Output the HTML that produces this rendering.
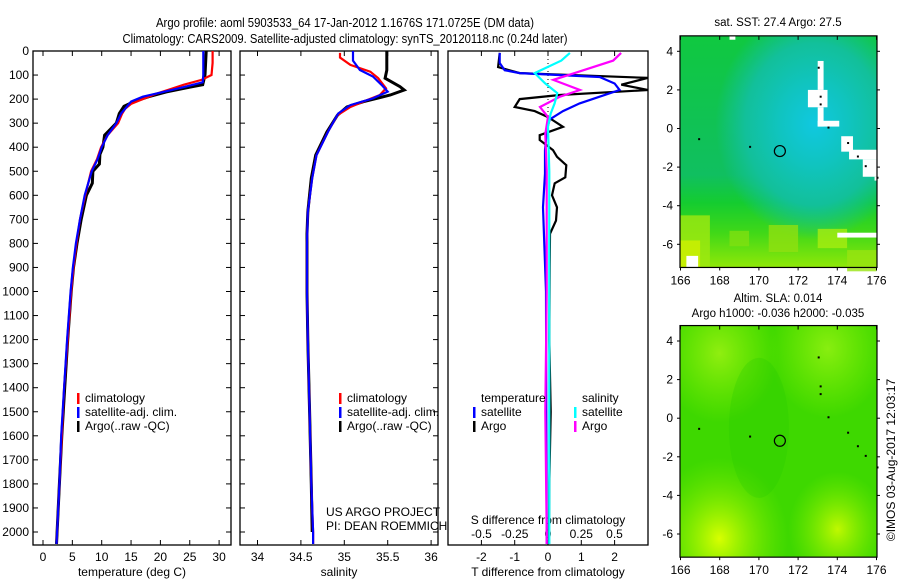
<!DOCTYPE html>
<html><head><meta charset="utf-8">
<style>
html,body{margin:0;padding:0;background:#fff;}
svg{display:block;font-family:"Liberation Sans",sans-serif;}
</style></head>
<body>
<svg id="chart" width="900" height="580" viewBox="0 0 900 580" xmlns="http://www.w3.org/2000/svg">
<defs>
<radialGradient id="teal" cx="0.68" cy="0.38" r="0.5">
<stop offset="0" stop-color="#10c8e0"/><stop offset="0.35" stop-color="#10c4c0"/><stop offset="0.7" stop-color="#12c09a"/><stop offset="1" stop-color="#12c09a" stop-opacity="0"/>
</radialGradient>
<linearGradient id="sstv" x1="0" y1="0" x2="0" y2="1">
<stop offset="0" stop-color="#10c840"/><stop offset="0.6" stop-color="#10bf60"/><stop offset="0.72" stop-color="#14cc30"/><stop offset="0.85" stop-color="#40d818"/><stop offset="1" stop-color="#90e808"/>
</linearGradient>
<radialGradient id="y1" cx="0.2" cy="0.92" r="0.35"><stop offset="0" stop-color="#d8ff00"/><stop offset="1" stop-color="#80ee00" stop-opacity="0"/></radialGradient>
<radialGradient id="y2" cx="0.8" cy="0.88" r="0.25"><stop offset="0" stop-color="#c0f800"/><stop offset="1" stop-color="#80ee00" stop-opacity="0"/></radialGradient>
<radialGradient id="y3" cx="0.2" cy="0.12" r="0.3"><stop offset="0" stop-color="#90ee10"/><stop offset="1" stop-color="#80ee00" stop-opacity="0"/></radialGradient>
<radialGradient id="y4" cx="0.75" cy="0.1" r="0.3"><stop offset="0" stop-color="#88ee10"/><stop offset="1" stop-color="#80ee00" stop-opacity="0"/></radialGradient>
</defs>
<g id="root"></g>
</svg>
<script>
// ---------- data ----------
const depthT = [0,50,100,120,140,160,180,200,220,240,260,300,350,400,450,500,600,700,800,900,1000,1200,1400,1600,1800,2000,2050];
const tempClim = [28.9,28.9,28.7,27,24,21.5,19,17,15,14,13.5,12.8,11,9.9,9.2,8.2,7.2,6.3,5.7,5.2,4.8,4.2,3.6,3.2,2.8,2.4,2.3];
const depthTs = [0,50,100,130,150,170,190,210,240,260,300,350,400,450,500,600,700,800,900,1000,1200,1400,1600,1800,2000,2050];
const tempSat = [27.3,27.3,27.3,27.2,24,20.5,17,15,14,13.3,12.5,11,10,9.3,8.3,7.1,6.3,5.6,5.1,4.7,4.1,3.6,3.1,2.8,2.4,2.3];
const depthTa = [0,50,100,140,150,170,190,210,230,260,300,350,400,430,470,500,550,600,700,800,900,1000,1200,1400,1600,1800,2000,2050];
const tempArgo = [27.8,27.7,27.6,27.2,25,21,18,15.5,13.8,13,12.5,10.5,10.2,9.7,9.6,8.5,8.4,7.4,6.5,5.8,5.2,4.8,4.2,3.7,3.2,2.8,2.4,2.3];

const depthS = [8,27,58,86,113,155,183,204,233,267,337,433,529,670,795,1000,1200,1500,1800,2000,2050];
const salClim = [34.95,34.95,35.07,35.3,35.39,35.48,35.41,35.26,35.07,34.92,34.81,34.68,34.63,34.58,34.57,34.57,34.58,34.6,34.62,34.64,34.64];
const depthSs = [0,40,79,106,141,169,197,225,260,330,433,529,670,795,1000,1200,1500,1800,2000,2050];
const salSat = [35.1,35.1,35.18,35.33,35.43,35.5,35.33,35.07,34.93,34.82,34.68,34.63,34.58,34.57,34.57,34.58,34.6,34.62,34.64,34.64];
const depthSa = [0,80,113,148,162,183,211,233,267,337,433,529,670,760,1000,1200,1500,1800,2000];
const salArgo = [35.49,35.49,35.47,35.64,35.69,35.53,35.22,35.03,34.92,34.8,34.67,34.62,34.58,34.57,34.57,34.58,34.6,34.62,34.63];

const depthD = [8,67,92,112,140,162,183,200,233,250,275,315,350,370,412,440,475,525,550,600,650,705,760,900,1200,1500,1800,2000,2050];
const tDiffArgo = [-1.45,-1.5,-0.85,3.0,2.2,3.0,0.35,-0.85,-1.0,-0.4,0,0.45,-0.25,-0.25,0.15,0.27,0.55,0.52,0.2,0.12,0.27,0.24,0.06,0.05,0.04,0.08,0.04,0.03,0.03];
const depthDs = [8,50,80,92,108,135,162,190,218,250,285,325,412,510,650,1000,1500,2000,2050];
const tDiffSat = [-1.45,-1.45,-1.3,-0.85,1.55,2.0,2.15,1.55,0.95,0.45,0.05,-0.03,-0.09,-0.09,-0.15,-0.06,-0.05,-0.04,-0.04];
const depthSd = [8,40,92,135,175,218,260,315,500,1000,1500,2000,2050];
const sDiffSat = [0.165,0.1,-0.1,-0.02,0.07,0.05,0.02,0,0.01,0.01,0.01,0.01,0.01];
const depthSda = [8,40,92,120,162,190,233,275,345,500,1000,1500,2000,2050];
const sDiffArgo = [0.55,0.49,0.2,0.04,0.24,0.09,-0.06,0,-0.02,-0.01,-0.01,-0.02,-0.01,-0.01];

const depthTicks = [0,100,200,300,400,500,600,700,800,900,1000,1100,1200,1300,1400,1500,1600,1700,1800,1900,2000];
const tTicks = [0,5,10,15,20,25,30];
const sTicks = [34,34.5,35,35.5,36];
const sTickLabels = ["34","34.5","35","35.5","36"];
const tdTicks = [-2,-1,0,1,2];
const sdTicks = [-0.5,-0.25,0,0.25,0.5];
const sdTickLabels = ["-0.5","-0.25","0","0.25","0.5"];
const lonTicks = [166,168,170,172,174,176];
const latTicks = [4,2,0,-2,-4,-6];

// ---------- scales ----------
const yD = d => 51 + d*0.2405;
const xT = t => 43 + t*5.87;
const xS = s => 257.5 + (s-34)*86.8;
const xTd = v => 548 + v*33.3;
const xSd = v => 548 + v*133;
const NS="http://www.w3.org/2000/svg";
const root=document.getElementById('root');
function el(tag,attrs,parent){const e=document.createElementNS(NS,tag);for(const k in attrs)e.setAttribute(k,attrs[k]);(parent||root).appendChild(e);return e;}
function txt(x,y,s,attrs,parent){const e=el('text',Object.assign({x:x,y:y,'font-size':12,fill:'#000'},attrs||{}),parent);e.textContent=s;return e;}

// titles
let t1=txt(345,27,"Argo profile: aoml 5903533_64 17-Jan-2012 1.1676S 171.0725E (DM data)",{'text-anchor':'middle','font-size':13,textLength:378,lengthAdjust:'spacingAndGlyphs'});


let t2=txt(345,43,"Climatology: CARS2009. Satellite-adjusted climatology: synTS_20120118.nc (0.24d later)",{'text-anchor':'middle','font-size':13,textLength:445,lengthAdjust:'spacingAndGlyphs'});



function frame(x0,x1,name){
  const g=el('g',{});
  
  
  el('rect',{x:x0,y:51,width:x1-x0,height:494,fill:'none',stroke:'#000','stroke-width':1.3},g);
  return g;
}
function line(xs,ds,fx,color,name,g,w){
  const pts=ds.map((d,i)=>fx(xs[i]).toFixed(1)+','+yD(d).toFixed(1)).join(' ');
  const p=el('polyline',{points:pts,fill:'none',stroke:color,'stroke-width':w||2.2,'stroke-linejoin':'miter'},g);
  
  
}
function clip(id,x0,x1){const c=el('clipPath',{id:id});el('rect',{x:x0,y:51,width:x1-x0,height:494},c);}

// Panel 1
const g1=frame(33,231,'temperature-panel');
depthTicks.forEach(d=>{
  const y=yD(d);
  el('line',{x1:33,y1:y,x2:38,y2:y,stroke:'#000'},g1);
  el('line',{x1:226,y1:y,x2:231,y2:y,stroke:'#000'},g1);
  const l=txt(29,y+4,String(d),{'text-anchor':'end','font-size':12},g1);
  
  
});
tTicks.forEach(t=>{
  const x=xT(t);
  el('line',{x1:x,y1:545,x2:x,y2:540,stroke:'#000'},g1);
  el('line',{x1:x,y1:51,x2:x,y2:56,stroke:'#000'},g1);
  const l=txt(x,561,String(t),{'text-anchor':'middle'},g1);
  
  
});
let a1=txt(132,576,"temperature (deg C)",{'text-anchor':'middle'},g1);


line(tempArgo,depthTa,xT,'#000','argo-temperature-line',g1,3);
line(tempClim,depthT,xT,'#f00','climatology-temperature-line',g1);
line(tempSat,depthTs,xT,'#00f','satellite-temperature-line',g1);

function legend(g,x,y,items,prefix){
  items.forEach((it,i)=>{
    const yy=y+i*14;
    el('rect',{x:x,y:yy-9,width:2.5,height:11,fill:it[1]},g);
    const l=txt(x+8,yy,it[0],{},g);
    
    
  });
}
legend(g1,77,402,[["climatology","#f00"],["satellite-adj. clim.","#00f"],["Argo(..raw -QC)","#000"]],'temperature');

// Panel 2
const g2=frame(240,438,'salinity-panel');
depthTicks.forEach(d=>{const y=yD(d);el('line',{x1:240,y1:y,x2:245,y2:y,stroke:'#000'},g2);el('line',{x1:433,y1:y,x2:438,y2:y,stroke:'#000'},g2);});
sTicks.forEach((s,i)=>{
  const x=xS(s);
  el('line',{x1:x,y1:545,x2:x,y2:540,stroke:'#000'},g2);
  el('line',{x1:x,y1:51,x2:x,y2:56,stroke:'#000'},g2);
  const l=txt(x,561,sTickLabels[i],{'text-anchor':'middle'},g2);
  
  
});
let a2=txt(339,576,"salinity",{'text-anchor':'middle'},g2);


line(salArgo,depthSa,xS,'#000','argo-salinity-line',g2,3);
line(salClim,depthS,xS,'#f00','climatology-salinity-line',g2);
line(salSat,depthSs,xS,'#00f','satellite-salinity-line',g2);
legend(g2,339,402,[["climatology","#f00"],["satellite-adj. clim.","#00f"],["Argo(..raw -QC)","#000"]],'salinity');
let pr1=txt(326,516,"US ARGO PROJECT",{},g2);


let pr2=txt(326,530,"PI: DEAN ROEMMICH",{},g2);



// Panel 3
clip('c3',448,648);
const g3=frame(448,648,'difference-panel');
tdTicks.forEach(v=>{
  const x=xTd(v);
  el('line',{x1:x,y1:545,x2:x,y2:540,stroke:'#000'},g3);
  el('line',{x1:x,y1:51,x2:x,y2:56,stroke:'#000'},g3);
  const l=txt(x,561,String(v),{'text-anchor':'middle'},g3);
  
  
});
sdTicks.forEach((v,i)=>{
  const l=txt(xSd(v),538,sdTickLabels[i],{'text-anchor':'middle'},g3);
  
  
});
let a3=txt(548,576,"T difference from climatology",{'text-anchor':'middle'},g3);


let a4=txt(548,524,"S difference from climatology",{'text-anchor':'middle'},g3);


el('line',{x1:548,y1:51,x2:548,y2:140,stroke:'#000','stroke-dasharray':'1,3'},g3);
const gc=el('g',{'clip-path':'url(#c3)'},g3);
line(tDiffArgo,depthD,xTd,'#000','argo-temperature-difference-line',gc,2.2);
line(tDiffSat,depthDs,xTd,'#00f','satellite-temperature-difference-line',gc,2.2);
line(sDiffArgo,depthSda,xSd,'#f0f','argo-salinity-difference-line',gc,2.2);
line(sDiffSat,depthSd,xSd,'#0ff','satellite-salinity-difference-line',gc,2.2);
let lh1=txt(481,402,"temperature",{},g3);


let lh2=txt(582,402,"salinity",{},g3);


legend(g3,473,416,[["satellite","#00f"],["Argo","#000"]],'t-difference');
legend(g3,574,416,[["satellite","#0ff"],["Argo","#f0f"]],'s-difference');

// Maps
const xLon=l=>680.5+(l-166)*19.6;
function mapFrame(top,lat4y,name,title1,title2,kind){
  const g=el('g',{});
  
  
  const yLat=la=>lat4y+(4-la)*19.3;
  const y0=yLat(4.8), y1=yLat(-7.2);
  if(kind==='sst'){
    el('rect',{x:680,y:y0,width:197,height:y1-y0,fill:'url(#sstv)'},g);
    el('rect',{x:680,y:y0,width:197,height:y1-y0,fill:'url(#teal)'},g);
    // yellow-green patches at bottom
    [[166,-4.5,1.5,2.7,'#a0e810'],[166,-5.8,1,1.4,'#d0f000'],[170.5,-5,1.5,1.4,'#90e010'],[173,-5.2,1.5,1,'#a8ec10'],[174.5,-6.3,1.5,1.1,'#98e410'],[168.5,-5.3,1,0.8,'#80e010']].forEach(b=>{
      el('rect',{x:xLon(b[0]),y:yLat(b[1]),width:b[2]*19.6,height:b[3]*19.3,fill:b[4],opacity:0.8},g);
    });
    // land / missing blocks [lon, latTop, width(deg), height(deg)]
    [[173,3.5,0.3,1.5],[172.5,2,1,0.9],[173,1.1,0.3,1.0],[173,0.4,1.1,0.3],[174.2,-0.4,0.6,0.8],[174.6,-1.1,1.4,0.5],[175.3,-1.6,0.7,0.9],[175.9,-2.5,0.15,0.2],[174,-5.4,2,0.25],[176,-5.4,0.15,1.4],[166.3,-6.6,0.6,0.6],[168.5,4.8,0.3,0.2]].forEach(b=>{
      el('rect',{x:xLon(b[0]),y:yLat(b[1]),width:b[2]*19.6,height:b[3]*19.3,fill:'#fff'},g);
    });
  } else {
    el('rect',{x:680,y:y0,width:197,height:y1-y0,fill:'#3ed800'},g);
    el('rect',{x:680,y:y0,width:197,height:y1-y0,fill:'url(#y1)'},g);
    el('rect',{x:680,y:y0,width:197,height:y1-y0,fill:'url(#y2)'},g);
    el('rect',{x:680,y:y0,width:197,height:y1-y0,fill:'url(#y3)'},g);
    el('rect',{x:680,y:y0,width:197,height:y1-y0,fill:'url(#y4)'},g);
    el('ellipse',{cx:xLon(170),cy:yLat(-0.5),rx:30,ry:70,fill:'#22c800',opacity:0.25},g);
  }
  // island dots
  [[173,3.2],[173.1,1.7],[173.1,1.3],[173.5,0.1],[174.5,-0.7],[175,-1.4],[175.4,-1.9],[176,-2.5],[169.5,-0.9],[166.9,-0.5]].forEach(p=>{
    el('rect',{x:xLon(p[0]),y:yLat(p[1]),width:2,height:2,fill:'#000'},g);
  });
  const c=el('circle',{cx:xLon(171.07),cy:yLat(-1.17),r:5.5,fill:'none',stroke:'#000','stroke-width':1.2},g);
  
  
  el('rect',{x:680,y:y0,width:197,height:y1-y0,fill:'none',stroke:'#000','stroke-width':1.2},g);
  lonTicks.forEach(l=>{
    const x=xLon(l);
    el('line',{x1:x,y1:y0,x2:x,y2:y0+4,stroke:'#000'},g);
    el('line',{x1:x,y1:y1,x2:x,y2:y1+3,stroke:'#000'},g);
    const t=txt(x,y1+17,String(l),{'text-anchor':'middle'},g);
    
    
  });
  latTicks.forEach(la=>{
    const y=yLat(la);
    el('line',{x1:677,y1:y,x2:680,y2:y,stroke:'#000'},g);
    el('line',{x1:877,y1:y,x2:880,y2:y,stroke:'#000'},g);
    const t=txt(673,y+4,String(la),{'text-anchor':'end'},g);
    
    
  });
  const tt=txt(778,top,title1,{'text-anchor':'middle','font-size':11.5},g);
  
  
  if(title2){const t2=txt(778,top+15,title2,{'text-anchor':'middle','font-size':11.5},g);
    
    }
}
mapFrame(26,51.3,'sst-map','sat. SST: 27.4  Argo: 27.5',null,'sst');
mapFrame(302,341,'sla-map','Altim. SLA: 0.014','Argo h1000: -0.036 h2000: -0.035','sla');

const cp=txt(0,0,"©IMOS 03-Aug-2017 12:03:17",{'text-anchor':'middle','font-size':12,transform:'translate(895,460) rotate(-90)'});


</script>
</body></html>
